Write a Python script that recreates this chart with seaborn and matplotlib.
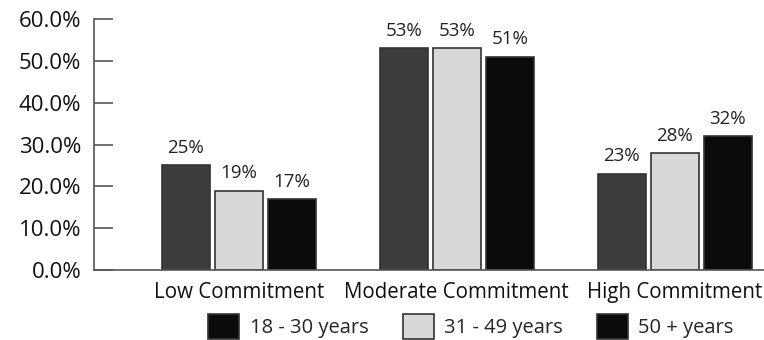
import matplotlib
matplotlib.use('Agg')
import matplotlib.pyplot as plt
import seaborn as sns
import pandas as pd

# data
categories = ['Low Commitment', 'Moderate Commitment', 'High Commitment']
groups = ['18 - 30 years', '31 - 49 years', '50 + years']
age_18_30 = [25, 53, 23]
age_31_49 = [19, 53, 28]
age_50_plus = [17, 51, 32]
yticks = [0, 10, 20, 30, 40, 50, 60]

bar_colors = ['#3d3d3d', '#d8d8d8', '#0b0b0b']
legend_colors = ['#0b0b0b', '#d8d8d8', '#0b0b0b']

rows = []
for g, vals in zip(groups, [age_18_30, age_31_49, age_50_plus]):
    for c, v in zip(categories, vals):
        rows.append({'category': c, 'group': g, 'value': v})
df = pd.DataFrame(rows)

sns.set_theme(style='white')
plt.rcParams['font.family'] = ['Open Sans', 'DejaVu Sans']

fig = plt.figure(figsize=(7.64, 3.4), dpi=100)
ax = fig.add_axes([0.123, 0.206, 0.877, 0.738])

sns.barplot(data=df, x='category', y='value', hue='group', order=categories,
            hue_order=groups, palette=bar_colors, width=0.73, gap=0.1,
            edgecolor='#333333', linewidth=1.2, saturation=1, ax=ax)

for cont in ax.containers:
    ax.bar_label(cont, labels=['%d%%' % round(b.get_height()) for b in cont],
                 padding=6, fontsize=13.5, color='#222222')

ax.set_xlim(-0.665, 2.41)
ax.set_ylim(0, 60)
ax.set_yticks(yticks)
ax.set_yticklabels(['%.1f%%' % t for t in yticks], fontsize=16, color='#111111')
ax.tick_params(axis='y', left=True, direction='in', length=14, width=1.2,
               color='#555555', pad=9)
ax.tick_params(axis='x', length=0, labelsize=14.8, labelcolor='#111111', pad=9)
ax.set_xlabel('')
ax.set_ylabel('')
for s in ['top', 'right']:
    ax.spines[s].set_visible(False)
for s in ['left', 'bottom']:
    ax.spines[s].set_color('#555555')
    ax.spines[s].set_linewidth(1.2)

handles, labels = ax.get_legend_handles_labels()
for h, col in zip(handles, legend_colors):
    h.set_facecolor(col)
    h.set_edgecolor('#333333')
ax.legend(handles, labels, loc='center', bbox_to_anchor=(0.5625, -0.225),
          ncol=3, frameon=False, fontsize=14.5, handlelength=1.55, handleheight=1.5,
          columnspacing=1.7, handletextpad=0.5)

fig.savefig('out.png', dpi=100)
